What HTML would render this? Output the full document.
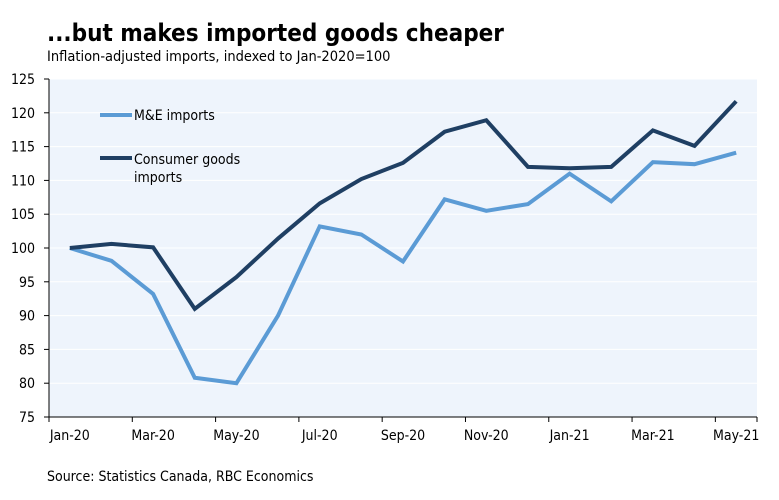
<!DOCTYPE html>
<html><head><meta charset="utf-8"><style>
body{margin:0;background:#fff;width:779px;height:496px;overflow:hidden;font-family:"DejaVu Sans Condensed","Liberation Sans",sans-serif;}
</style></head><body>
<svg width="779" height="496" xmlns="http://www.w3.org/2000/svg">
<text x="47" y="41" font-size="24" font-weight="bold" fill="#000">...but makes imported goods cheaper</text>
<text x="47" y="61" font-size="14.5" fill="#000">Inflation-adjusted imports, indexed to Jan-2020=100</text>
<rect x="49" y="79" width="708" height="338" fill="#eef4fc"/>
<g id="grid"></g><g id="axes"></g><g id="series"></g>
<g>
<line x1="100" y1="115" x2="132" y2="115" stroke="#5b9bd5" stroke-width="4"/>
<text x="134" y="120" font-size="14">M&amp;E imports</text>
<line x1="100" y1="158" x2="132" y2="158" stroke="#1f3f63" stroke-width="4"/>
<text x="134" y="164" font-size="14">Consumer goods</text>
<text x="134" y="182" font-size="14">imports</text>
</g>
<text x="47" y="481" font-size="14">Source: Statistics Canada, RBC Economics</text>
</svg>
<script>
const categories=["Jan-20","Feb-20","Mar-20","Apr-20","May-20","Jun-20","Jul-20","Aug-20","Sep-20","Oct-20","Nov-20","Dec-20","Jan-21","Feb-21","Mar-21","Apr-21","May-21"];
const meImports=[100,98.1,93.2,80.8,80.0,90,103.2,102,98,107.2,105.5,106.5,111,106.9,112.7,112.4,114.1];
const consumerImports=[100,100.6,100.1,91,95.7,101.4,106.6,110.2,112.6,117.2,118.9,112,111.8,112,117.4,115.1,121.7];
const yTicks=[75,80,85,90,95,100,105,110,115,120,125];
const NS="http://www.w3.org/2000/svg";
const X0=49,X1=757,Y0=417,Y1=79,YMIN=75,YMAX=125;
const bw=(X1-X0)/categories.length;
function xs(i){return X0+bw*(i+0.5);}
function ys(v){return Y0-(v-YMIN)/(YMAX-YMIN)*(Y0-Y1);}
function mk(t,a,p){const e=document.createElementNS(NS,t);for(const k in a)e.setAttribute(k,a[k]);p.appendChild(e);return e;}
const grid=document.getElementById('grid'),axes=document.getElementById('axes'),ser=document.getElementById('series');
yTicks.forEach(v=>{
 if(v>YMIN){const g=mk('line',{x1:X0,x2:X1,y1:ys(v),y2:ys(v),stroke:'#fff','stroke-width':1},grid);
 
 }
 const tk=mk('line',{x1:X0-5,x2:X0,y1:ys(v),y2:ys(v),stroke:'#000'},axes);
 
 
 const t=mk('text',{x:X0-14,y:ys(v)+5,'font-size':14,'text-anchor':'end'},axes);t.textContent=v;
 
 
});
const ya=mk('line',{x1:X0,x2:X0,y1:Y1,y2:Y0,stroke:'#000'},axes);


const xa=mk('line',{x1:X0,x2:X1,y1:Y0,y2:Y0,stroke:'#000'},axes);


categories.forEach((c,i)=>{
 if(i%2===0){
  const tk=mk('line',{x1:X0+bw*i,x2:X0+bw*i,y1:Y0,y2:Y0+5,stroke:'#000'},axes);
  
  
  const t=mk('text',{x:xs(i),y:Y0+23,'font-size':14,'text-anchor':'middle'},axes);t.textContent=c;
  
  
 }
});
const lastTick=mk('line',{x1:X1,x2:X1,y1:Y0,y2:Y0+5,stroke:'#000'},axes);


function line(vals,color,name){
 const p=mk('polyline',{points:vals.map((v,i)=>xs(i)+','+ys(v)).join(' '),fill:'none',stroke:color,'stroke-width':4,'stroke-linejoin':'miter'},ser);
 
 
}
line(meImports,'#5b9bd5','me-imports-line');
line(consumerImports,'#1f3f63','consumer-goods-imports-line');
</script>
</body></html>
